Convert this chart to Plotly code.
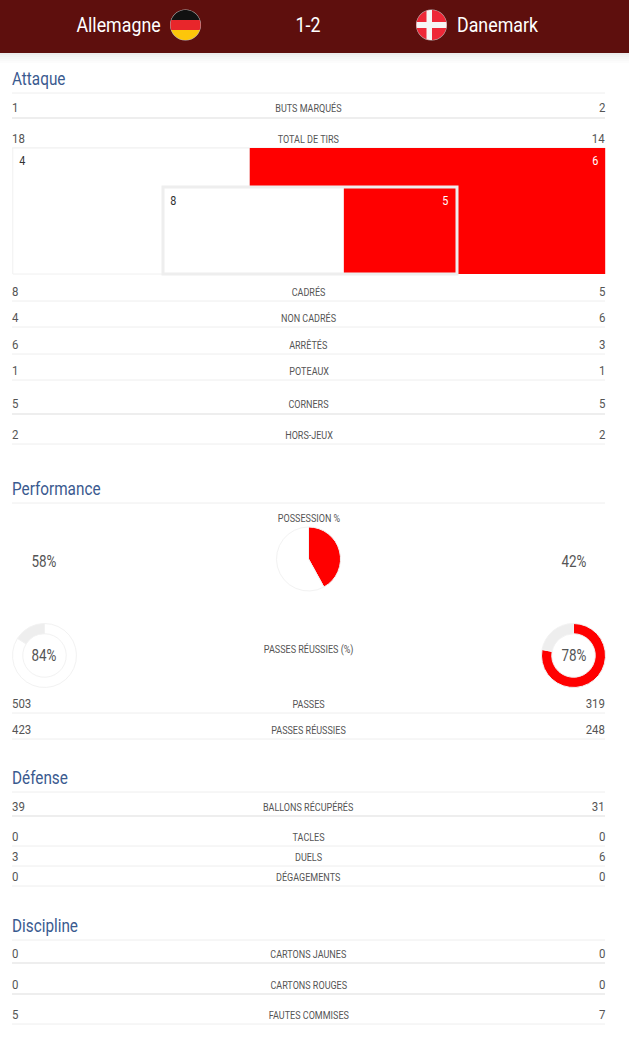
"""Statistiques du match Allemagne - Danemark avec Plotly."""

import numpy as np
import plotly.graph_objects as go

HOME = "Allemagne"
AWAY = "Danemark"
SCORE = "1-2"

SECTIONS = ["Attaque", "Performance", "Défense", "Discipline"]

STAT_LABELS = [
    "BUTS MARQUÉS", "TOTAL DE TIRS", "CADRÉS", "NON CADRÉS", "ARRÊTÉS", "POTEAUX",
    "CORNERS", "HORS-JEUX", "PASSES", "PASSES RÉUSSIES", "BALLONS RÉCUPÉRÉS",
    "TACLES", "DUELS", "DÉGAGEMENTS", "CARTONS JAUNES", "CARTONS ROUGES",
    "FAUTES COMMISES",
]
HOME_VALUES = [1, 18, 8, 4, 6, 1, 5, 2, 503, 423, 39, 0, 3, 0, 0, 0, 5]
AWAY_VALUES = [2, 14, 5, 6, 3, 1, 5, 2, 319, 248, 31, 0, 6, 0, 0, 0, 7]

OFF_TARGET = [4, 6]
ON_TARGET = [8, 5]
POSSESSION = [58, 42]
PASS_ACCURACY = [84, 78]

# mise en page, en pixels
FONT = "Roboto, sans-serif"
LEFT, RIGHT = 12, 605
RED = "#ff0000"
GREY = "#eeeeee"
TEXT = "#555555"
SECTION_Y = [78, 488, 777, 925]
SECTION_LINE_Y = [93, 503, 792, 940]
ROW_Y = [107, 138, 291, 317, 344, 370, 403, 434, 703, 729, 806, 836, 856, 876, 953, 984, 1014]
ROW_LINE_Y = [118, 148, 301, 327, 354, 380, 414, 444, 713, 739, 816, 846, 866, 886, 963, 994, 1024]
THICK_ROWS = [0, 6, 10, 14, 15]

# Roboto Condensed n'est pas installée : on resserre le texte après le rendu
CONDENSE_JS = """
document.body.style.margin = '0';
document.body.style.overflow = 'hidden';
var gd = document.querySelector('.plotly-graph-div');
var ratios = {11: 0.82, 12: 0.9, 13: 0.88, 16: 0.84, 18: 0.85, 20: 0.89};
document.querySelectorAll('.annotation').forEach(function (a) {
  var ann = gd.layout.annotations[+a.dataset.index];
  var t = a.querySelector('text');
  var w = t.getComputedTextLength();
  var k = ratios[ann.font.size];
  var shift = (1 - k) * w / 2;
  t.setAttribute('textLength', w * k);
  t.setAttribute('lengthAdjust', 'spacingAndGlyphs');
  if (ann.xanchor === 'left') t.setAttribute('x', +t.getAttribute('x') - shift);
  if (ann.xanchor === 'right') t.setAttribute('x', +t.getAttribute('x') + shift);
});
"""


def add_text(fig, x, y, text, size, color=TEXT, anchor="center"):
    fig.add_annotation(
        x=x, y=y, text=text, showarrow=False, xanchor=anchor, yanchor="middle",
        borderpad=0, borderwidth=0,
        font=dict(family=FONT, size=size, color=color),
    )


def circle_clip(cx, cy, r, x0, x1, y0, y1):
    """Polygone d'un rectangle coupé par un cercle, pour les drapeaux."""
    t = np.linspace(0, 2 * np.pi, 160)
    xs = np.clip(cx + r * np.cos(t), x0, x1)
    ys = np.clip(cy + r * np.sin(t), y0, y1)
    return "M" + "L".join(f"{a:.2f},{b:.2f}" for a, b in zip(xs, ys)) + "Z"


def add_flag_part(fig, cx, cy, x0, x1, y0, y1, color):
    fig.add_shape(
        type="path", path=circle_clip(cx, cy, 15, x0, x1, y0, y1),
        fillcolor=color, line_width=0, layer="above",
    )


def add_pie(fig, cx, cy, values, colors, hole=0.0):
    r = 32
    fig.add_trace(go.Pie(
        values=values, sort=False, direction="clockwise", rotation=0, hole=hole,
        marker=dict(colors=colors, line=dict(color="#f2f2f2", width=1)),
        textinfo="none", hoverinfo="skip", showlegend=False,
        domain=dict(x=[(cx - r) / 629, (cx + r) / 629], y=[1 - (cy + r) / 1055, 1 - (cy - r) / 1055]),
    ))


fig = go.Figure()

# tirs : hors cadre puis cadrés, emboîtés
outer_left, outer_width = 12.8, 592.4
inner_left, inner_width = 163, 294
off_split = outer_width * OFF_TARGET[0] / sum(OFF_TARGET)
on_split = inner_width * ON_TARGET[0] / sum(ON_TARGET)
fig.add_trace(go.Bar(x=[off_split], y=[211], base=[outer_left], width=[126], orientation="h",
                     marker=dict(color="white", line=dict(color="#f0f0f0", width=1))))
fig.add_trace(go.Bar(x=[outer_width - off_split], y=[211], base=[outer_left + off_split], width=[126],
                     orientation="h", marker=dict(color=RED, line=dict(width=0))))
fig.add_trace(go.Bar(x=[on_split], y=[230.5], base=[inner_left], width=[87], orientation="h",
                     marker=dict(color="white", line=dict(width=0))))
fig.add_trace(go.Bar(x=[inner_width - on_split], y=[230.5], base=[inner_left + on_split], width=[87],
                     orientation="h", marker=dict(color=RED, line=dict(width=0))))

add_pie(fig, 308.5, 559, [POSSESSION[1], POSSESSION[0]], [RED, "white"])
add_pie(fig, 44.5, 655.5, [PASS_ACCURACY[0], 100 - PASS_ACCURACY[0]], ["white", GREY], hole=0.68)
add_pie(fig, 573.5, 655.5, [PASS_ACCURACY[1], 100 - PASS_ACCURACY[1]], [RED, GREY], hole=0.68)

# bandeau du haut et son ombre
fig.add_shape(type="rect", x0=0, x1=629, y0=0, y1=53, fillcolor="#5e0f0d", line_width=0, layer="below")
for i, shade in enumerate(["#ececec", "#f2f2f2", "#f6f6f6", "#f9f9f9", "#fcfcfc"]):
    fig.add_shape(type="rect", x0=0, x1=629, y0=53 + i * 2, y1=55 + i * 2,
                  fillcolor=shade, line_width=0, layer="below")

# drapeaux
fig.add_shape(type="circle", x0=170, x1=201, y0=9.5, y1=40.5, fillcolor="#b8b8b8", line_width=0, layer="above")
add_flag_part(fig, 185.5, 25, 170, 201, 9, 20, "#111111")
add_flag_part(fig, 185.5, 25, 170, 201, 20, 30, "#e8262b")
add_flag_part(fig, 185.5, 25, 170, 201, 30, 41, "#fdc60a")
fig.add_shape(type="circle", x0=416, x1=447, y0=9.5, y1=40.5, fillcolor="#b8b8b8", line_width=0, layer="above")
add_flag_part(fig, 431.5, 25, 416, 447, 9, 41, "#ee2737")
add_flag_part(fig, 431.5, 25, 416, 447, 22, 28, "#f5f5f5")
add_flag_part(fig, 431.5, 25, 426.5, 432, 9, 41, "#f5f5f5")

add_text(fig, 161, 25, HOME, 20, "white", "right")
add_text(fig, 457, 25, AWAY, 20, "white", "left")
add_text(fig, 308, 25, SCORE, 20, "white")

# cadres des tirs
fig.add_shape(type="rect", x0=inner_left, x1=inner_left + inner_width, y0=187, y1=274,
              line=dict(color=GREY, width=3), layer="above")
add_text(fig, 22, 161, str(OFF_TARGET[0]), 12, "#333333")
add_text(fig, 595, 161, str(OFF_TARGET[1]), 12, "white")
add_text(fig, 173, 201, str(ON_TARGET[0]), 12, "#333333")
add_text(fig, 445, 201, str(ON_TARGET[1]), 12, "white")

for name, y, line_y in zip(SECTIONS, SECTION_Y, SECTION_LINE_Y):
    add_text(fig, LEFT, y, name, 18, "#3a5a8f", "left")
    fig.add_shape(type="line", x0=LEFT, x1=RIGHT, y0=line_y, y1=line_y,
                  line=dict(color=GREY, width=1), layer="below")

for i, label in enumerate(STAT_LABELS):
    add_text(fig, LEFT, ROW_Y[i], str(HOME_VALUES[i]), 13, TEXT, "left")
    add_text(fig, 308.5, ROW_Y[i] + 1, label, 11, TEXT)
    add_text(fig, RIGHT, ROW_Y[i], str(AWAY_VALUES[i]), 13, TEXT, "right")
    fig.add_shape(type="line", x0=LEFT, x1=RIGHT, y0=ROW_LINE_Y[i], y1=ROW_LINE_Y[i],
                  line=dict(color=GREY, width=2 if i in THICK_ROWS else 1), layer="below")

add_text(fig, 308.5, 518, "POSSESSION %", 11)
add_text(fig, 308.5, 649, "PASSES RÉUSSIES (%)", 11)
add_text(fig, 44, 561, f"{POSSESSION[0]}%", 16)
add_text(fig, 573.5, 561, f"{POSSESSION[1]}%", 16)
add_text(fig, 44, 655, f"{PASS_ACCURACY[0]}%", 16)
add_text(fig, 573.5, 655, f"{PASS_ACCURACY[1]}%", 16)

fig.update_layout(
    width=629, height=1055, margin=dict(l=0, r=0, t=0, b=0),
    paper_bgcolor="white", plot_bgcolor="rgba(0,0,0,0)",
    barmode="overlay", showlegend=False,
    xaxis=dict(range=[0, 629], visible=False, fixedrange=True),
    yaxis=dict(range=[1055, 0], visible=False, fixedrange=True),
)
fig.write_html("out.html", config={"displayModeBar": False}, post_script=CONDENSE_JS)
